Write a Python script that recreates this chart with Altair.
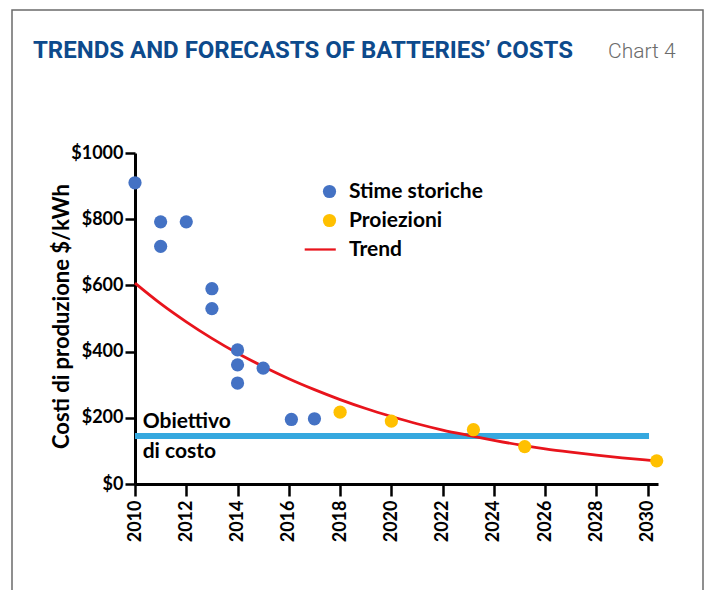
import altair as alt
import pandas as pd

# ---- data ----
hist_years = [2010, 2011, 2011, 2012, 2013, 2013, 2014, 2014, 2014, 2015, 2016.1, 2017]
hist_costs = [910, 792, 718, 792, 590, 530, 405, 360, 305, 350, 195, 197]

proj_years = [2018, 2020, 2023.2, 2025.2, 2030.35]
proj_costs = [217, 190, 164, 113, 70]

trend_years = [2010, 2011, 2012, 2013, 2014, 2015, 2016, 2017, 2018, 2019, 2020,
               2021, 2022, 2023, 2024, 2025, 2026, 2027, 2028, 2029, 2030, 2030.3]
trend_costs = [607, 545, 490, 440, 395, 355, 318, 285, 255, 228, 204,
               182, 163, 147, 132, 118, 106, 96, 87, 79, 72, 70]

target_cost = 145
target_from, target_to = 2010, 2030.05

series_names = ["Stime storiche", "Proiezioni", "Trend"]
series_colors = ["#4472C4", "#FFC000", "#E8141C"]
x_ticks = list(range(2010, 2031))
y_ticks = [0, 200, 400, 600, 800, 1000]

title_text = "TRENDS AND FORECASTS OF BATTERIES\u2019 COSTS"
chart_label = "Chart 4"
target_lines = ["Obiettivo", "di costo"]
y_title = "Costi di produzione $/kWh"

# ---- tables ----
points = pd.DataFrame({
    "year": hist_years + proj_years,
    "cost": hist_costs + proj_costs,
    "series": [series_names[0]] * len(hist_years) + [series_names[1]] * len(proj_years),
})
trend = pd.DataFrame({"year": trend_years, "cost": trend_costs})
target = pd.DataFrame({"x": [target_from], "x2": [target_to], "y": [target_cost]})
target_text = pd.DataFrame({"year": [2010.3, 2010.3], "cost": [169, 79], "t": target_lines})
dummy = pd.DataFrame({"a": [0]})

FONT = "Lato"
xscale = alt.Scale(domain=[2010, 2030.4], nice=False, zero=False)
yscale = alt.Scale(domain=[0, 1000], nice=False)

x_axis = alt.Axis(values=x_ticks, labelExpr="datum.value % 2 == 0 ? '' + datum.value : ''",
                  labelAngle=-90, labelFont=FONT, labelFontWeight="bold", labelFontSize=18,
                  labelColor="black", labelPadding=4, tickSize=12, tickWidth=2.5,
                  tickColor="black", domainColor="black", domainWidth=3, grid=False,
                  title=None, labelOverlap=False)
y_axis = alt.Axis(values=y_ticks, labelExpr="'$' + datum.value", labelFont=FONT,
                  labelFontWeight="bold", labelFontSize=18, labelColor="black",
                  labelPadding=2, tickSize=10, tickWidth=2.5, tickColor="black",
                  domainColor="black", domainWidth=3, grid=False, title=y_title,
                  titleFont=FONT, titleFontWeight="bold", titleFontSize=22,
                  titleColor="black", titleX=-62, titleY=163, labelOverlap=False)

line_path = "M-3.75,-0.17L0.95,-0.17L0.95,0.17L-3.75,0.17Z"
legend = alt.Legend(title=None, orient="none", legendX=184, legendY=28,
                    labelFont=FONT, labelFontWeight="bold", labelFontSize=21,
                    labelColor="black", symbolSize=175, rowPadding=7, labelOffset=9,
                    padding=0, symbolStrokeWidth=0, symbolOpacity=1)

frame = alt.Chart(dummy).mark_rect(filled=False, stroke="#6b6b6b", strokeWidth=1.5).encode(
    x=alt.value(-123), x2=alt.value(568), y=alt.value(-143), y2=alt.value(470))

title_mark = alt.Chart(dummy).mark_text(
    text=title_text, font="Roboto", fontWeight="bold", fontSize=24,
    color="#0D4A8C", align="left", baseline="alphabetic").encode(
    x=alt.value(-102), y=alt.value(-95))
label_mark = alt.Chart(dummy).mark_text(
    text=chart_label, font="Roboto", fontWeight=300, fontSize=21,
    color="#6b6b6b", align="left", baseline="alphabetic").encode(
    x=alt.value(473), y=alt.value(-95))

target_rule = alt.Chart(target).mark_rule(color="#35A8DF", strokeWidth=6, strokeCap="butt").encode(
    x=alt.X("x:Q", scale=xscale, axis=x_axis), x2="x2:Q",
    y=alt.Y("y:Q", scale=yscale, axis=y_axis))

target_label = alt.Chart(target_text).mark_text(
    font=FONT, fontWeight="bold", fontSize=21, color="black", align="left",
    baseline="alphabetic").encode(
    x=alt.X("year:Q", scale=xscale), y=alt.Y("cost:Q", scale=yscale), text="t:N")

trend_line = alt.Chart(trend).mark_line(color="#E8141C", strokeWidth=2.8, interpolate="monotone").encode(
    x=alt.X("year:Q", scale=xscale), y=alt.Y("cost:Q", scale=yscale))

dots = alt.Chart(points).mark_point(filled=True, size=175, opacity=1).encode(
    x=alt.X("year:Q", scale=xscale), y=alt.Y("cost:Q", scale=yscale),
    color=alt.Color("series:N", scale=alt.Scale(domain=series_names, range=series_colors), legend=legend),
    shape=alt.Shape("series:N", scale=alt.Scale(domain=series_names, range=["circle", "circle", line_path]), legend=legend))

chart = alt.layer(frame, title_mark, label_mark, target_rule, target_label, trend_line, dots).properties(
    width=523, height=331,
    padding={"left": 135, "top": 153, "right": 50, "bottom": 106},
    autosize=alt.AutoSizeParams(type="none"),
    background="white",
).configure_view(stroke=None)

chart.save("out.html", embed_options={"renderer": "svg", "actions": False})
